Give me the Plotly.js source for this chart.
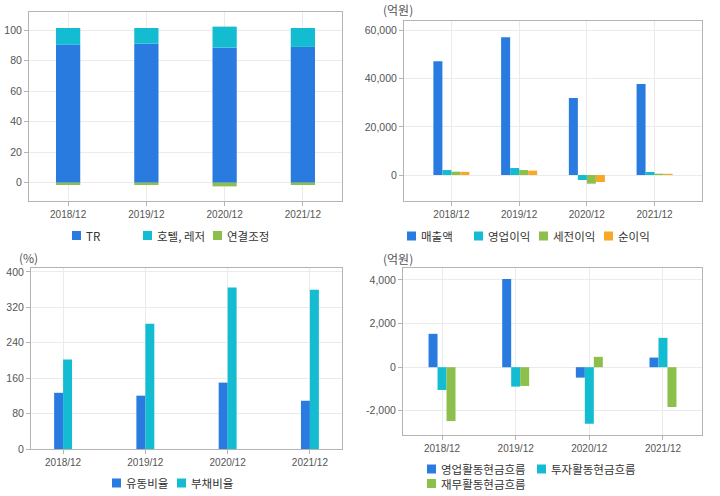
<!DOCTYPE html>
<html><head><meta charset="utf-8">
<script src="https://cdn.plot.ly/plotly-3.0.1.min.js"></script>
<style>html,body{margin:0;padding:0;background:#fff;}#chart{width:720px;height:496px;}</style>
</head><body><div id="chart"></div>
<script>
// ---- data ----
const periods = ["2018/12", "2019/12", "2020/12", "2021/12"];

// Chart 1: revenue composition (%)
const segTR = [90.6, 91.2, 88.6, 89.1];
const segHotel = [10.9, 10.3, 13.8, 12.4];
const segAdj = [-1.5, -1.5, -2.4, -1.5];
const segNames = ["TR", "호텔, 레저", "연결조정"];

// Chart 2: income (억원)
const sales = [47300, 57250, 32000, 37800];
const opProfit = [2070, 2900, -2070, 1250];
const preTax = [1400, 2070, -3600, 550];
const netProfit = [1300, 1800, -2900, 500];
const incNames = ["매출액", "영업이익", "세전이익", "순이익"];

// Chart 3: ratios (%)
const currentRatio = [127, 120.5, 150, 109];
const debtRatio = [202, 283, 365, 360];
const ratioNames = ["유동비율", "부채비율"];

// Chart 4: cash flow (억원)
const cfOper = [1530, 4046, -478, 441];
const cfInv = [-1044, -890, -2593, 1347];
const cfFin = [-2470, -860, 474, -1825];
const cfNames = ["영업활동현금흐름", "투자활동현금흐름", "재무활동현금흐름"];

// tick labels
const y1Ticks = [0, 20, 40, 60, 80, 100];
const y2Ticks = [0, 20000, 40000, 60000];
const y2Text = ["0", "20,000", "40,000", "60,000"];
const y3Ticks = [0, 80, 160, 240, 320, 400];
const y4Ticks = [-2000, 0, 2000, 4000];
const y4Text = ["-2,000", "0", "2,000", "4,000"];

// ---- styles ----
const BLUE = "#2a7be0", CYAN = "#13bcd0", GREEN = "#8cbf4b", ORANGE = "#f7a826";
const FONT = "'Noto Sans CJK KR', 'Noto Sans', sans-serif";
const TICKFONT = "'Liberation Sans', Arial, sans-serif";
const W = 720, H = 496;
const px = (a, b) => [a / W, b / W];
const py = (top, bot) => [1 - bot / H, 1 - top / H];

function bar(x, y, name, color, xa, ya, width, offset, base) {
  const t = {type: "bar", x: x, y: y, name: name, xaxis: xa, yaxis: ya,
    marker: {color: color, line: {width: 0}}, width: width, offset: offset, hoverinfo: "x+y+name"};
  if (base) t.base = base;
  return t;
}

const traces = [
  bar(periods, segTR, segNames[0], BLUE, "x", "y", 0.31, -0.155),
  bar(periods, segHotel, segNames[1], CYAN, "x", "y", 0.31, -0.155, segTR),
  bar(periods, segAdj, segNames[2], GREEN, "x", "y", 0.31, -0.155),

  bar(periods, sales, incNames[0], BLUE, "x2", "y2", 0.133, -0.266),
  bar(periods, opProfit, incNames[1], CYAN, "x2", "y2", 0.133, -0.133),
  bar(periods, preTax, incNames[2], GREEN, "x2", "y2", 0.133, 0),
  bar(periods, netProfit, incNames[3], ORANGE, "x2", "y2", 0.133, 0.133),

  bar(periods, currentRatio, ratioNames[0], BLUE, "x3", "y3", 0.109, -0.109),
  bar(periods, debtRatio, ratioNames[1], CYAN, "x3", "y3", 0.109, 0),

  bar(periods, cfOper, cfNames[0], BLUE, "x4", "y4", 0.122, -0.183),
  bar(periods, cfInv, cfNames[1], CYAN, "x4", "y4", 0.122, -0.061),
  bar(periods, cfFin, cfNames[2], GREEN, "x4", "y4", 0.122, 0.061)
];

function xaxis(domain, range, anchor) {
  return {domain: domain, range: range, anchor: anchor, type: "category",
    showline: true, mirror: true, linecolor: "#b4b4b4", linewidth: 1,
    showgrid: true, gridcolor: "#ebebeb", ticks: "outside", ticklen: 4, tickcolor: "#b4b4b4",
    tickfont: {family: TICKFONT, size: 10, color: "#555"}, fixedrange: true, zeroline: false};
}
function yaxis(domain, range, anchor, tv, tt) {
  return {domain: domain, range: range, anchor: anchor,
    showline: true, mirror: true, linecolor: "#b4b4b4", linewidth: 1,
    showgrid: true, gridcolor: "#ebebeb", zeroline: false,
    ticks: "outside", ticklen: 4, tickcolor: "#b4b4b4",
    tickfont: {family: TICKFONT, size: 10.5, color: "#555"}, fixedrange: true,
    tickmode: "array", tickvals: tv, ticktext: tt || tv.map(String)};
}

// ---- hand-placed legends (square + label), pixel positions ----
const legendSpecs = [
  {names: segNames, colors: [BLUE, CYAN, GREEN], xs: [72, 143, 213], ys: [235.5, 235.5, 235.5]},
  {names: incNames, colors: [BLUE, CYAN, GREEN, ORANGE], xs: [407, 474, 539, 604], ys: [236, 236, 236, 236]},
  {names: ratioNames, colors: [BLUE, CYAN], xs: [112, 177], ys: [483, 483]},
  {names: cfNames, colors: [BLUE, CYAN, GREEN], xs: [427, 537, 427], ys: [469, 469, 483.5]}
];
const shapes = [], annotations = [];
const SQ = 9;
legendSpecs.forEach(function (spec) {
  spec.names.forEach(function (n, i) {
    const x0 = spec.xs[i], yc = spec.ys[i];
    shapes.push({type: "rect", xref: "paper", yref: "paper", x0: x0 / W, x1: (x0 + SQ) / W,
      y0: 1 - (yc + SQ / 2) / H, y1: 1 - (yc - SQ / 2) / H, fillcolor: spec.colors[i], line: {width: 0}});
    annotations.push({text: n, xref: "paper", yref: "paper", x: (x0 + SQ + 4) / W, y: 1 - yc / H,
      xanchor: "left", yanchor: "middle", showarrow: false, borderpad: 0,
      font: {family: FONT, size: 11.5, color: "#333"}});
  });
});
const unitLabels = [
  {text: "(억원)", x: 381, y: 10},
  {text: "(%)", x: 17, y: 257},
  {text: "(억원)", x: 381, y: 258}
];
unitLabels.forEach(function (u) {
  annotations.push({text: u.text, xref: "paper", yref: "paper", x: u.x / W, y: 1 - u.y / H,
    xanchor: "left", yanchor: "middle", showarrow: false, font: {family: FONT, size: 12, color: "#555"}});
});

const layout = {
  width: W, height: H, margin: {l: 0, r: 0, t: 0, b: 0},
  paper_bgcolor: "#fff", plot_bgcolor: "#fff",
  barmode: "group", showlegend: false,
  font: {family: FONT},
  xaxis: xaxis(px(29, 342), [-0.5, 3.5], "y"),
  yaxis: yaxis(py(12, 201), [-12, 112], "x", y1Ticks),
  xaxis2: xaxis(px(404, 702), [-0.7, 3.7], "y2"),
  yaxis2: yaxis(py(21, 201), [-10800, 64000], "x2", y2Ticks, y2Text),
  xaxis3: xaxis(px(31, 342), [-0.39, 3.39], "y3"),
  yaxis3: yaxis(py(268, 449), [0, 409], "x3", y3Ticks),
  xaxis4: xaxis(px(403, 702), [-0.53, 3.53], "y4"),
  yaxis4: yaxis(py(268, 435), [-3110, 4550], "x4", y4Ticks, y4Text),
  shapes: shapes,
  annotations: annotations
};

Plotly.newPlot("chart", traces, layout, {displayModeBar: false, staticPlot: true});
</script></body></html>
